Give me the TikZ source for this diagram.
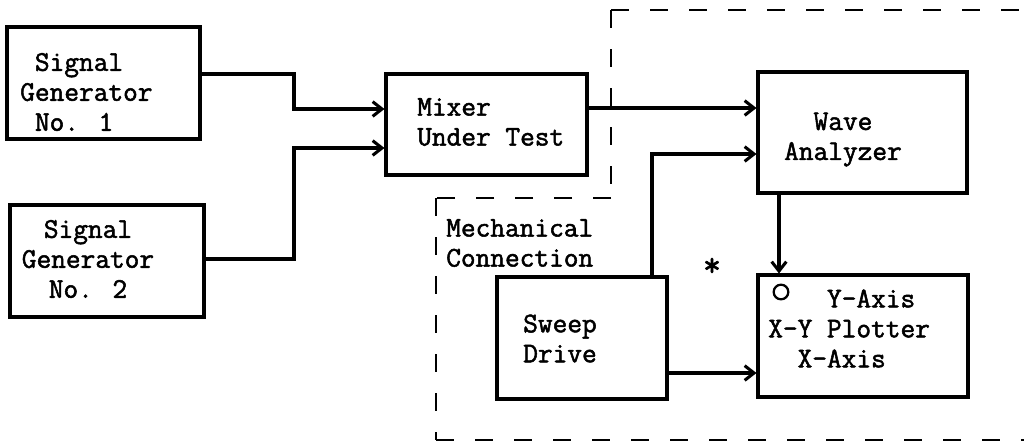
\documentclass[tikz,border=0pt]{standalone}
\usepackage{fontspec}
\newfontfamily\tw{Latin Modern Mono}[BoldFont={Latin Modern Mono}, BoldFeatures={FakeBold=1.8}]
\usetikzlibrary{arrows.meta}
\begin{document}
\begin{tikzpicture}[x=0.75pt,y=-0.75pt,
  box/.style={draw, line width=2.3pt, inner sep=0pt},
  txt/.style={font=\tw\bfseries\fontsize{21.4}{22.5}\selectfont, inner sep=0pt},
  arr/.style={line width=2.3pt, -{Straight Barb[length=7pt,width=11pt]}},
  dsh/.style={line width=2.2pt, dash pattern=on 13.5pt off 15.75pt}]
\useasboundingbox (0,0) rectangle (1024,443);
\fill[white] (0,0) rectangle (1024,443);

% boxes
\node[box, minimum width=144.75pt, minimum height=84pt] (sg1) at (103.5,83) {};
\node[box, minimum width=145.5pt, minimum height=84pt] (sg2) at (107,261) {};
\node[box, minimum width=150.75pt, minimum height=75.75pt] (mix) at (486.5,124.5) {};
\node[box, minimum width=156.75pt, minimum height=90.75pt] (wa) at (862.5,132.5) {};
\node[box, minimum width=127.5pt, minimum height=91.5pt] (sw) at (582,338) {};
\node[box, minimum width=157.5pt, minimum height=91.5pt] (pl) at (863,336) {};

% texts
\node[txt, anchor=west, align=left] (sg1t) at (20,92) {\hphantom{G}Signal\\Generator\\\hphantom{G}No. 1};
\node[txt, align=center] (sg2t) at (88,259) {Signal\\Generator\\No. 2};
\node[txt, anchor=west, align=left] (mixt) at (417,122) {Mixer\\Under Test};
\node[txt, align=center] (wat) at (843,139.5) {Wave\\Analyzer};
\node[txt, anchor=west, align=left] (swt) at (523,338.5) {Sweep\\Drive};
\node[txt, anchor=west, align=left] (mect) at (446,243) {Mechanical\\Connection};
\node[txt, anchor=west, align=left] (plt) at (768,328.5) {\hphantom{XXXX}Y-Axis\\X-Y Plotter\\\hphantom{XX}X-Axis};
\node[txt, font=\tw\bfseries\fontsize{26}{26}\selectfont] (ast) at (712,267) {*};

% small circle on plotter
\node[draw, circle, line width=1.7pt, minimum size=11pt, inner sep=0pt] (knob) at (781,292) {};

% connectors
\draw[arr] (sg1.east |- 0,74) -| (294,109) -- (mix.west |- 0,109);
\draw[arr] (sg2.east |- 0,259) -| (294,148) -- (mix.west |- 0,148);
\draw[arr] (mix.east |- 0,108) -- (wa.west |- 0,108);
\draw[arr] (sw.north -| 652,0) |- (wa.west |- 0,154);
\draw[arr] (wa.south -| 779,0) -- (pl.north -| 779,0);
\draw[arr] (sw.east |- 0,373) -- (pl.west |- 0,373);

% dashed enclosure
\draw[dsh] (611,10) -- (1024,10);
\draw[dsh] (611,10) -- (611,198);
\draw[dsh] (611,198) -- (436,198);
\draw[dsh] (436,198) -- (436,440);
\draw[dsh] (436,440) -- (1024,440);
\end{tikzpicture}
\end{document}
